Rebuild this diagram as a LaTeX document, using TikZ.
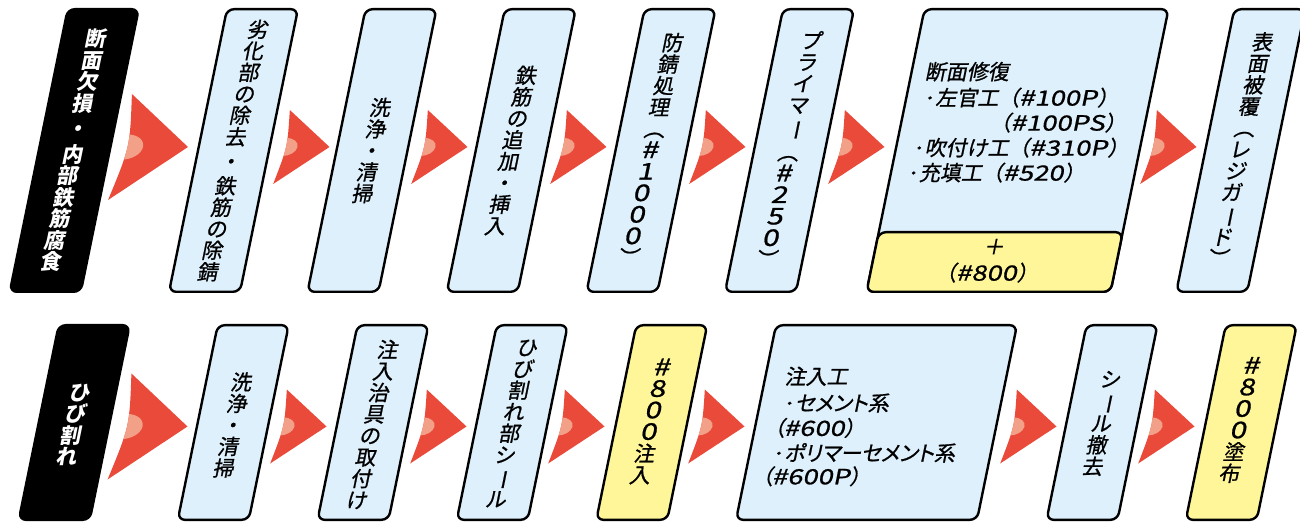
\documentclass[tikz,border=0pt]{standalone}
\usepackage{fontspec}
\usepackage{graphicx}
\newfontfamily\jp{Noto Sans CJK JP}[FakeBold=0.9]
\newfontfamily\jpb{Noto Sans CJK JP}
\newfontfamily\jpp{Noto Sans CJK JP}[RawFeature=+palt,FakeBold=0.9]
\newfontfamily\latf{Noto Sans CJK JP}[FakeStretch=1.3,FakeBold=0.9]
\definecolor{boxblue}{HTML}{DDF0FB}
\definecolor{boxyel}{HTML}{FFF69A}
\definecolor{arrred}{HTML}{E94A3A}
\definecolor{arrhl}{HTML}{F3A088}
\newcommand{\vrot}[1]{\rotatebox[origin=c]{-90}{#1}}
\newcommand{\dg}[1]{{\latf\fontsize{23}{21.5}\selectfont #1}}
\newcommand{\pgbox}[6]{%
  \begin{scope}[shift={(#2,#3)},xslant=0.205]
    \draw[#6] (-#4/2,-#5/2) -- (#4/2,-#5/2) -- (#4/2,#5/2) -- (-#4/2,#5/2) -- cycle;
    \coordinate (#1) at (0,0);
  \end{scope}}
\newcommand{\parrow}[8]{%
  \begin{scope}[shift={(#2,#3)},xslant=0.225]
    \coordinate (#1) at (0,0);
    \fill[arrred] (0,#4) .. controls (#6,0) .. (0,-#4) -- (#5,0) -- cycle;
    \clip (0,#4) .. controls (#6,0) .. (0,-#4) -- (#5,0) -- cycle;
    \fill[arrhl] (#6/2,0) ellipse[x radius=#7, y radius=#8];
  \end{scope}}
\newcommand{\bigarrow}[3]{\parrow{#1}{#2}{#3}{53}{68}{10}{18}{12.5}}
\newcommand{\smallarrow}[3]{\parrow{#1}{#2}{#3}{37}{48}{6}{13}{9}}
\newcommand{\dotm}{{\latf ·}\kern-1pt}
\tikzset{
  boxline/.style={draw=black, line width=2.4pt, rounded corners=7pt},
  bluebox/.style={boxline, fill=boxblue},
  yelbox/.style={boxline, fill=boxyel},
  blackbox/.style={boxline, fill=black},
  vtext/.style={align=center, inner sep=0pt, xslant=0.205, font=\jp\fontsize{21}{21.5}\selectfont},
  vbold/.style={vtext, text=white, font=\jpb\bfseries\fontsize{21}{21.5}\selectfont},
  htext/.style={anchor=base west, inner sep=0pt, transform shape, font=\jp\fontsize{21}{25}\selectfont},
  hptext/.style={anchor=base west, inner sep=0pt, transform shape, font=\jpp\fontsize{21}{25}\selectfont},
  ytext/.style={anchor=base, inner sep=0pt, transform shape, font=\jp\fontsize{21}{25}\selectfont},
}
\begin{document}
\begin{tikzpicture}[x=1pt,y=1pt]
\useasboundingbox (0,0) rectangle (1300,522);
\clip (0,0) rectangle (1300,522);
% ---------------- top row ----------------
\pgbox{T1}{74.25}{371.5}{71}{282.6}{blackbox}
\node[vbold] (t1) at (74.25,371.5) {断\\面\\欠\\損\\[4pt]・\\[4pt]内\\部\\鉄\\筋\\腐\\食};
\bigarrow{ta1}{120}{375}
\pgbox{T2}{233.5}{371.5}{71}{282.6}{bluebox}
\node[vtext] (t2) at (233.5,371.5) {劣\\化\\部\\の\\除\\去\\[3pt]・\\[3pt]鉄\\筋\\の\\除\\錆};
\smallarrow{ta2}{281.5}{375}
\pgbox{T3}{372}{371.5}{71}{282.6}{bluebox}
\node[vtext] (t3) at (372,371.5) {洗\\浄\\・\\清\\掃};
\smallarrow{ta3}{419.5}{375}
\pgbox{T4}{511.25}{371.5}{71}{282.6}{bluebox}
\node[vtext] (t4) at (511.25,371.5) {鉄\\筋\\の\\追\\加\\・\\挿\\入};
\smallarrow{ta4}{558.5}{375}
\pgbox{T5}{651}{371.5}{71}{282.6}{bluebox}
\node[vtext] (t5) at (651,371.5) {防\\錆\\処\\理\\\vrot{（}\\\dg{\#}\\\dg{1}\\\dg{0}\\\dg{0}\\\dg{0}\\\vrot{）}};
\smallarrow{ta5}{697.5}{375}
\pgbox{T6}{789.5}{371.5}{71}{282.6}{bluebox}
\node[vtext] (t6) at (789.5,371.5) {プ\\ラ\\イ\\マ\\\vrot{ー}\\\vrot{（}\\\dg{\#}\\\dg{2}\\\dg{5}\\\dg{0}\\\vrot{）}};
\smallarrow{ta6}{836.5}{375}
\begin{scope}[shift={(1017.5,371.5)},xslant=0.205]
  \draw[bluebox] (-122,-141.3) -- (122,-141.3) -- (122,141.3) -- (-122,141.3) -- cycle;
  \draw[yelbox] (-122,-141.3) -- (122,-141.3) -- (122,-81.7) -- (-122,-81.7) -- cycle;
  \coordinate (T7) at (0,0);
  \node[htext] (t7a) at (-107.5,70.9) {断面修復};
  \node[htext] (t7b) at (-106,44.9) {\dotm 左官工（{\latf\#100P}）};
  \node[htext] (t7c) at (-32,19.9) {（{\latf\#100PS}）};
  \node[htext] (t7d) at (-106.5,-5.1) {\dotm 吹付け工（{\latf\#310P}）};
  \node[htext] (t7e) at (-107,-30.1) {\dotm 充填工（{\latf\#520}）};
  \node[ytext] (t7f) at (-2.7,-104) {＋};
  \node[ytext] (t7g) at (-4.4,-130.1) {（{\latf\#800}）};
\end{scope}
\smallarrow{ta7}{1148.5}{375}
\pgbox{T8}{1240.75}{371.5}{71}{282.6}{bluebox}
\node[vtext] (t8) at (1240.75,371.5) {表\\面\\被\\覆\\\vrot{（}\\レ\\ジ\\ガ\\\vrot{ー}\\ド\\\vrot{）}};
% ---------------- bottom row ----------------
\pgbox{B1}{74.25}{99.5}{71}{194.6}{blackbox}
\node[vbold] (b1) at (74.25,97) {ひ\\び\\割\\れ};
\bigarrow{ba1}{119.5}{95.5}
\pgbox{B2}{233.25}{99.5}{71}{194.6}{bluebox}
\node[vtext] (b2) at (233.25,97) {洗\\浄\\・\\清\\掃};
\smallarrow{ba2}{278.5}{95.5}
\pgbox{B3}{373}{99.5}{71}{194.6}{bluebox}
\node[vtext] (b3) at (373,97.5) {注\\入\\治\\具\\の\\取\\付\\け};
\smallarrow{ba3}{418.5}{95.5}
\pgbox{B4}{512.25}{99.5}{71}{194.6}{bluebox}
\node[vtext] (b4) at (512.25,98.5) {ひ\\び\\割\\れ\\部\\シ\\\vrot{ー}\\ル};
\smallarrow{ba4}{556.5}{95.5}
\pgbox{B5}{651.75}{99.5}{71}{194.6}{yelbox}
\node[vtext] (b5) at (651.75,100.5) {\dg{\#}\\\dg{8}\\\dg{0}\\\dg{0}\\注\\入};
\smallarrow{ba5}{696.5}{95.5}
\begin{scope}[shift={(876.5,99.5)},xslant=0.205]
  \draw[bluebox] (-120.5,-97.3) -- (120.5,-97.3) -- (120.5,97.3) -- (-120.5,97.3) -- cycle;
  \coordinate (B6) at (0,0);
  \node[hptext] (b6a) at (-100,38.2) {注入工};
  \node[hptext] (b6b) at (-98.5,11.6) {\dotm セメント系};
  \node[hptext] (b6c) at (-100.5,-13.4) {（{\latf\#600}）};
  \node[hptext] (b6d) at (-99,-38.4) {\dotm ポリマーセメント系};
  \node[hptext] (b6e) at (-102.5,-61.8) {（{\latf\#600P}）};
\end{scope}
\smallarrow{ba6}{1008.5}{95.5}
\pgbox{B7}{1102}{99.5}{71}{194.6}{bluebox}
\node[vtext] (b7) at (1102,98.5) {シ\\\vrot{ー}\\ル\\撤\\去};
\smallarrow{ba7}{1146.5}{95.5}
\pgbox{B8}{1241.25}{99.5}{71}{194.6}{yelbox}
\node[vtext] (b8) at (1241.25,102) {\dg{\#}\\\dg{8}\\\dg{0}\\\dg{0}\\塗\\布};
\end{tikzpicture}
\end{document}
